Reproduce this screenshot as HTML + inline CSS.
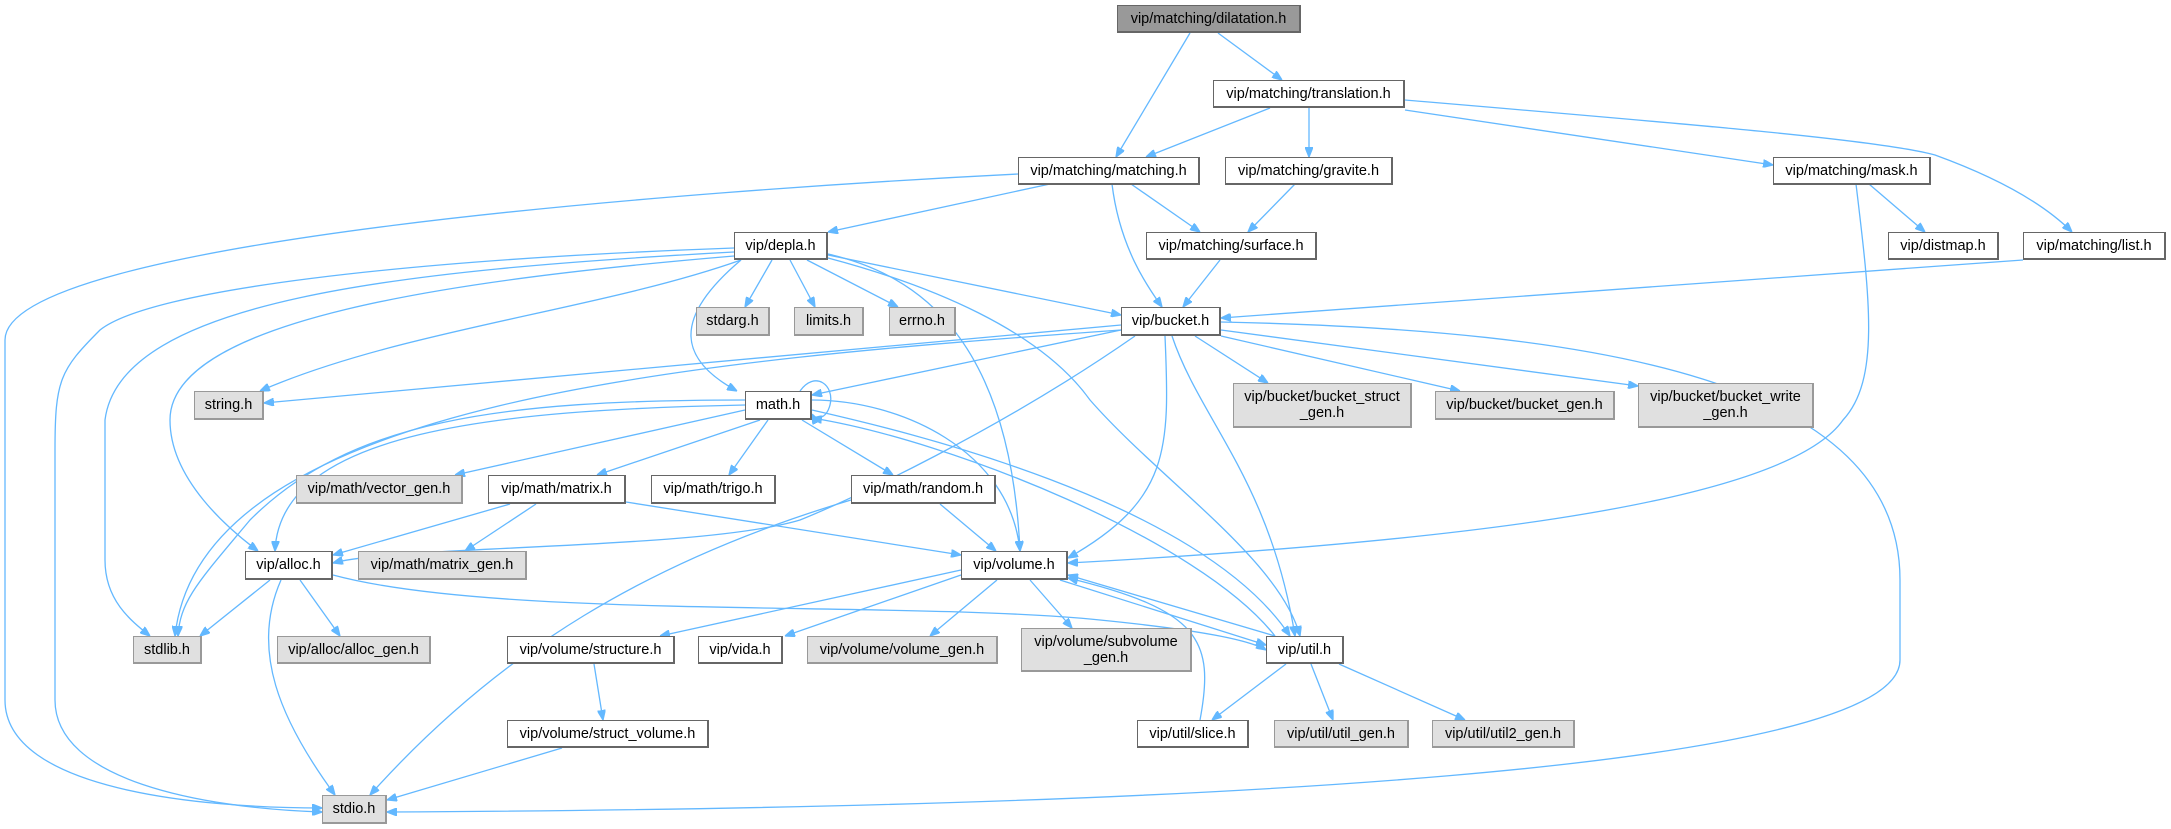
<!DOCTYPE html>
<html><head><meta charset="utf-8"><style>
html,body{margin:0;padding:0;background:#fff;}
#c{position:relative;width:2171px;height:829px;overflow:hidden;font-family:"Liberation Sans",sans-serif;}
.n{position:absolute;box-sizing:border-box;border:1px solid #666;border-right-width:2px;border-bottom-width:2px;background:#fff;font-size:14.5px;color:#000;display:flex;align-items:center;justify-content:center;text-align:center;line-height:16px;white-space:nowrap;}
.g{background:#e0e0e0;border-color:#999;}
.d{background:#999;border-color:#666;}
svg{position:absolute;left:0;top:0;}
path{fill:none;stroke:#63b8ff;stroke-width:1.3;}
</style></head><body><div id="c">
<svg width="2171" height="829">
<defs><marker id="a" viewBox="0 0 10 8" refX="10" refY="4" markerWidth="10" markerHeight="8" orient="auto" markerUnits="userSpaceOnUse"><path d="M0,0 L10,4 L0,8 z" style="fill:#63b8ff;stroke:#63b8ff"/></marker></defs>
<g marker-end="url(#a)">
<path d="M1190,33 L1116,157"/>
<path d="M1218,33 L1282,80"/>
<path d="M1270,108 L1146,157"/>
<path d="M1309,108 L1309,157"/>
<path d="M1405,110 L1773,165"/>
<path d="M1405,100 C1700,125 1880,140 1935,155 C1990,175 2040,200 2072,232"/>
<path d="M1018,174 C700,190 5,240 5,340 L5,700 C5,790 200,808 322,808"/>
<path d="M1050,184 L828,232"/>
<path d="M1131,184 L1200,232"/>
<path d="M1112,184 C1120,250 1150,290 1162,307"/>
<path d="M1295,184 L1248,232"/>
<path d="M1220,260 L1183,307"/>
<path d="M1869,184 L1925,232"/>
<path d="M1856,184 C1870,300 1880,380 1843,420 C1780,510 1400,545 1068,563"/>
<path d="M2023,260 L1221,318"/>
<path d="M828,255 L1121,315"/>
<path d="M772,260 L745,307"/>
<path d="M790,260 L815,307"/>
<path d="M807,260 L898,307"/>
<path d="M741,260 C600,310 400,330 260,391"/>
<path d="M741,260 C670,320 680,360 737,391"/>
<path d="M734,248 C400,260 150,290 100,330 C60,370 55,380 55,450 L55,700 C55,780 200,808 322,812"/>
<path d="M734,252 C400,270 120,300 105,420 L105,560 C105,600 130,620 150,636"/>
<path d="M734,256 C450,280 170,320 170,420 C170,480 230,530 258,551"/>
<path d="M828,254 C920,275 1010,340 1020,551"/>
<path d="M828,258 C930,285 1040,330 1090,400 C1160,480 1280,560 1300,636"/>
<path d="M1121,325 L264,403"/>
<path d="M1121,330 L812,395"/>
<path d="M1121,330 C700,360 200,400 175,636"/>
<path d="M1135,336 C1000,430 850,500 800,520 C700,550 400,545 333,563"/>
<path d="M1165,336 C1170,450 1170,500 1068,558"/>
<path d="M1172,336 C1200,420 1270,480 1295,636"/>
<path d="M1195,336 L1268,383"/>
<path d="M1221,336 L1460,391"/>
<path d="M1221,330 L1638,386"/>
<path d="M1221,322 C1600,330 1900,380 1900,580 L1900,660 C1900,770 1200,808 387,812"/>
<path d="M800,391 C815,370 835,385 830,405 C826,420 815,420 812,414"/>
<path d="M745,410 L455,475"/>
<path d="M760,420 L597,475"/>
<path d="M768,420 L729,475"/>
<path d="M802,420 L893,475"/>
<path d="M745,400 C500,400 350,420 250,520 C200,580 180,600 178,636"/>
<path d="M745,405 C500,410 280,430 275,551"/>
<path d="M812,400 C900,400 1010,450 1020,551"/>
<path d="M812,410 C900,430 1200,500 1290,636"/>
<path d="M1275,636 C1200,540 950,440 812,418"/>
<path d="M510,504 L333,555"/>
<path d="M536,504 L465,551"/>
<path d="M626,502 L961,555"/>
<path d="M851,500 C650,560 500,650 370,795"/>
<path d="M940,504 L996,551"/>
<path d="M270,580 L200,636"/>
<path d="M300,580 L340,636"/>
<path d="M281,580 C250,650 280,720 335,795"/>
<path d="M333,575 C500,620 900,600 1100,620 C1200,630 1250,640 1266,650"/>
<path d="M961,570 L660,636"/>
<path d="M961,575 L785,636"/>
<path d="M997,580 L930,636"/>
<path d="M1030,580 L1072,628"/>
<path d="M1060,580 L1266,645"/>
<path d="M1275,636 L1068,575"/>
<path d="M594,664 L603,720"/>
<path d="M562,748 L387,800"/>
<path d="M1286,664 L1212,720"/>
<path d="M1311,664 L1333,720"/>
<path d="M1339,664 L1465,720"/>
<path d="M1200,720 C1215,640 1200,610 1068,578"/>
</g></svg>
<div class="n d" style="left:1117px;top:5px;width:184px;height:28px">vip/matching/dilatation.h</div>
<div class="n" style="left:1213px;top:80px;width:192px;height:28px">vip/matching/translation.h</div>
<div class="n" style="left:1018px;top:157px;width:182px;height:28px">vip/matching/matching.h</div>
<div class="n" style="left:1225px;top:157px;width:168px;height:28px">vip/matching/gravite.h</div>
<div class="n" style="left:1773px;top:157px;width:158px;height:28px">vip/matching/mask.h</div>
<div class="n" style="left:1146px;top:232px;width:171px;height:28px">vip/matching/surface.h</div>
<div class="n" style="left:1888px;top:232px;width:111px;height:28px">vip/distmap.h</div>
<div class="n" style="left:2023px;top:232px;width:143px;height:28px">vip/matching/list.h</div>
<div class="n" style="left:734px;top:232px;width:94px;height:28px">vip/depla.h</div>
<div class="n" style="left:1121px;top:307px;width:100px;height:29px">vip/bucket.h</div>
<div class="n g" style="left:696px;top:307px;width:74px;height:29px">stdarg.h</div>
<div class="n g" style="left:794px;top:307px;width:70px;height:29px">limits.h</div>
<div class="n g" style="left:889px;top:307px;width:67px;height:29px">errno.h</div>
<div class="n g" style="left:1233px;top:383px;width:179px;height:45px">vip/bucket/bucket_struct<br>_gen.h</div>
<div class="n g" style="left:1435px;top:391px;width:180px;height:29px">vip/bucket/bucket_gen.h</div>
<div class="n g" style="left:1638px;top:383px;width:176px;height:45px">vip/bucket/bucket_write<br>_gen.h</div>
<div class="n g" style="left:194px;top:391px;width:70px;height:29px">string.h</div>
<div class="n" style="left:745px;top:391px;width:67px;height:29px">math.h</div>
<div class="n g" style="left:296px;top:475px;width:167px;height:29px">vip/math/vector_gen.h</div>
<div class="n" style="left:488px;top:475px;width:138px;height:29px">vip/math/matrix.h</div>
<div class="n" style="left:651px;top:475px;width:125px;height:29px">vip/math/trigo.h</div>
<div class="n" style="left:851px;top:475px;width:145px;height:29px">vip/math/random.h</div>
<div class="n" style="left:245px;top:551px;width:88px;height:29px">vip/alloc.h</div>
<div class="n g" style="left:358px;top:551px;width:169px;height:29px">vip/math/matrix_gen.h</div>
<div class="n" style="left:961px;top:551px;width:107px;height:29px">vip/volume.h</div>
<div class="n g" style="left:133px;top:636px;width:69px;height:28px">stdlib.h</div>
<div class="n g" style="left:277px;top:636px;width:154px;height:28px">vip/alloc/alloc_gen.h</div>
<div class="n" style="left:507px;top:636px;width:168px;height:28px">vip/volume/structure.h</div>
<div class="n" style="left:698px;top:636px;width:85px;height:28px">vip/vida.h</div>
<div class="n g" style="left:807px;top:636px;width:191px;height:28px">vip/volume/volume_gen.h</div>
<div class="n g" style="left:1021px;top:628px;width:171px;height:44px">vip/volume/subvolume<br>_gen.h</div>
<div class="n" style="left:1266px;top:636px;width:78px;height:28px">vip/util.h</div>
<div class="n" style="left:507px;top:720px;width:202px;height:28px">vip/volume/struct_volume.h</div>
<div class="n" style="left:1137px;top:720px;width:112px;height:28px">vip/util/slice.h</div>
<div class="n g" style="left:1274px;top:720px;width:135px;height:28px">vip/util/util_gen.h</div>
<div class="n g" style="left:1432px;top:720px;width:143px;height:28px">vip/util/util2_gen.h</div>
<div class="n g" style="left:322px;top:795px;width:65px;height:29px">stdio.h</div>
</div></body></html>
